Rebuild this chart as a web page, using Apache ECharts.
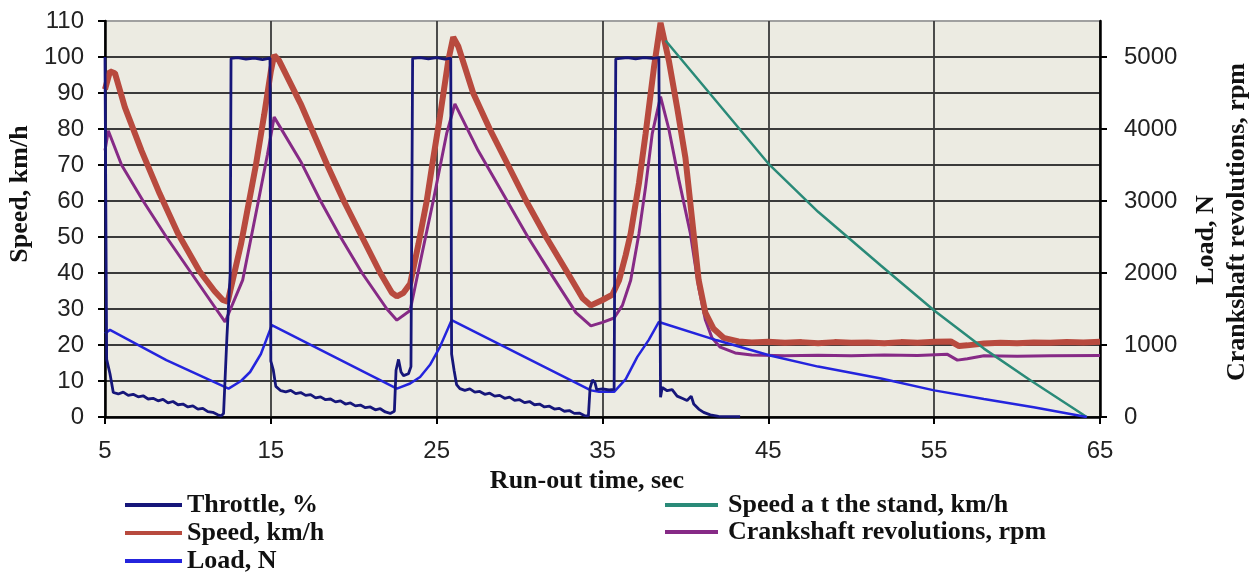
<!DOCTYPE html>
<html><head><meta charset="utf-8">
<script src="https://cdn.jsdelivr.net/npm/echarts@6/dist/echarts.min.js"></script>
<style>html,body{margin:0;padding:0;background:#fff;}#c{width:1260px;height:577px;}</style>
</head><body><div id="c"></div>
<script>
// ---- data (time in s, left axis km/h or %, right axis N or rpm) ----
const xTicks = [5, 15, 25, 35, 45, 55, 65];
const rightTicks = [0, 1000, 2000, 3000, 4000, 5000];

const throttleData = [
 [5.0,100],[5.1,16],[5.3,12],[5.5,6.8],[5.8,6.4],[6.1,6.9],[6.4,6.0],[6.7,6.3],[7.0,5.6],[7.3,5.9],[7.6,5.0],[7.9,5.2],
 [8.2,4.5],[8.5,4.9],[8.8,3.9],[9.1,4.3],[9.4,3.4],[9.7,3.6],[10.0,2.8],[10.3,3.1],[10.6,2.2],[10.9,2.4],[11.2,1.5],
 [11.5,1.3],[11.8,0.6],[12.0,0.3],[12.15,1],[12.35,22],[12.55,40],[12.6,99.6],[13.0,99.8],[13.5,99.4],[14.0,99.7],
 [14.5,99.3],[14.95,99.7],[15.0,15.5],[15.15,13],[15.3,8.5],[15.6,7.3],[15.9,7.0],[16.2,7.4],[16.5,6.5],[16.8,6.8],
 [17.1,6.0],[17.4,6.2],[17.7,5.3],[18.0,5.6],[18.3,4.8],[18.6,5.0],[18.9,4.2],[19.2,4.5],[19.5,3.6],[19.8,3.9],
 [20.1,3.1],[20.4,3.3],[20.7,2.6],[21.0,2.8],[21.3,2.0],[21.6,2.3],[21.9,1.4],[22.2,1.0],[22.45,1.6],[22.55,13],
 [22.7,16],[22.85,12.5],[23.0,11.5],[23.3,12],[23.45,14],[23.55,99.6],[24.0,99.8],[24.5,99.5],[25.0,99.8],[25.5,99.4],
 [25.85,99.7],[25.9,17.5],[26.05,13],[26.2,9],[26.4,7.9],[26.7,7.4],[27.0,7.8],[27.3,6.9],[27.6,7.1],[27.9,6.3],
 [28.2,6.6],[28.5,5.8],[28.8,6.0],[29.1,5.2],[29.4,5.5],[29.7,4.6],[30.0,4.8],[30.3,4.0],[30.6,4.3],[30.9,3.4],
 [31.2,3.6],[31.5,2.8],[31.8,3.0],[32.1,2.2],[32.4,2.4],[32.7,1.6],[33.0,1.8],[33.3,1.0],[33.6,1.1],[33.9,0.4],
 [34.15,0.3],[34.25,8],[34.4,10.3],[34.55,9.5],[34.65,7.6],[35.0,7.8],[35.4,7.5],[35.7,7.7],[35.8,99.5],[36.5,99.8],
 [37.0,99.5],[37.5,99.8],[38.0,99.6],[38.4,99.8],[38.5,5.5],[38.6,8.2],[38.9,7.3],[39.2,7.6],[39.5,5.8],[39.8,5.2],
 [40.1,4.6],[40.35,5.8],[40.5,3.6],[40.8,2.2],[41.1,1.3],[41.5,0.6],[42.0,0.2],[43.3,0.1]
];

const speedData = [
 [5.0,91],[5.3,96],[5.6,95.5],[6.2,86],[7.2,74],[8.3,62],[9.4,51],[10.7,40.5],[11.6,35],[12.1,32.5],[12.4,32],
 [12.8,40],[13.2,48],[13.65,59],[14.1,70],[14.6,84],[15.0,96],[15.2,100.5],[15.5,99],[16.8,87],[18.4,70],[19.4,60],
 [20.5,50],[21.6,40],[22.3,34.5],[22.6,33.5],[23.0,34.5],[23.4,37],[23.9,48],[24.4,60],[24.8,72],[25.2,83.5],
 [25.7,99],[26.0,105.5],[26.3,103],[27.2,90],[28.2,80],[29.3,70],[30.4,60],[31.6,50],[32.9,40],[33.8,33],[34.3,31],
 [35.0,32.5],[35.6,34],[36.0,38],[36.4,45],[36.7,51],[37.2,65],[37.6,78.7],[38.1,97],[38.5,109.5],[39.0,99],
 [39.5,86],[40.0,72],[40.4,55],[40.8,38],[41.2,29],[41.7,24.5],[42.3,22],[43.2,21],[44.0,20.7],[45.0,20.9],
 [46.0,20.6],[47.0,20.8],[48.0,20.5],[49.0,20.8],[50.0,20.6],[51.0,20.7],[52.0,20.5],[53.0,20.8],[54.0,20.6],
 [55.0,20.9],[56.0,21.0],[56.5,19.7],[57.0,19.9],[58.0,20.4],[59.0,20.6],[60.0,20.5],[61.0,20.7],[62.0,20.6],
 [63.0,20.8],[64.0,20.7],[65.0,20.9]
];

const loadData = [
 [5.0,1160],[5.3,1210],[8.7,790],[12.45,395],[13.2,500],[13.75,625],[14.4,875],[15.06,1275],[22.6,395],[23.4,465],
 [24.0,555],[24.6,725],[25.2,975],[25.9,1345],[34.3,370],[34.8,350],[35.7,350],[36.4,525],[37.1,835],[37.8,1075],
 [38.4,1320],[41.9,1065],[45.1,855],[48.0,700],[51.8,535],[55.0,370],[58.0,250],[61.0,135],[64.2,0]
];

const standData = [
 [38.8,104.6],[41.7,88.6],[45.0,70.4],[48.0,57],[51.8,42],[55.0,29.6],[58.0,19],[60.8,10.2],[64.2,0]
];

const crankData = [
 [5.0,3700],[5.2,3975],[6.0,3500],[7.3,3000],[8.7,2500],[10.2,2000],[11.7,1500],[12.24,1320],[13.3,1900],
 [14.25,3000],[14.8,3650],[15.2,4165],[16.8,3550],[18.0,3000],[19.2,2500],[20.5,2000],[22.0,1500],[22.6,1345],
 [23.4,1480],[24.1,2250],[24.8,3010],[25.6,3935],[26.1,4350],[27.5,3700],[29.0,3100],[30.5,2500],[32.0,1950],
 [33.4,1450],[34.3,1265],[35.0,1315],[35.7,1375],[36.2,1550],[36.7,1900],[37.2,2550],[37.6,3200],[38.0,3935],
 [38.5,4450],[39.0,4000],[39.6,3300],[40.3,2550],[40.8,1800],[41.2,1350],[41.6,1100],[42.1,970],[43.0,890],
 [44.0,860],[46.0,850],[48.0,858],[50.0,850],[52.0,862],[54.0,855],[55.8,870],[56.4,790],[57.0,810],[58.0,850],
 [60.0,845],[62.0,852],[65.0,855]
];

const seriesNames = ['Throttle, %','Speed, km/h','Load, N','Speed a t the stand, km/h','Crankshaft revolutions, rpm'];

// ---- chart ----
const SERIF = "'Liberation Serif','Times New Roman',serif";
const SANS = "'Liberation Sans',Arial,sans-serif";
const gridColors = [];
for (let i = 0; i < 11; i++) gridColors.push('#3a3a3a');
gridColors.push('#a0a0a0');

const chart = echarts.init(document.getElementById('c'), null, {renderer:'canvas'});
const labelStyle = {fontFamily: SANS, fontSize: 24, color: '#222'};
const legendText = {fontFamily: SERIF, fontWeight: 'bold', fontSize: 26, color: '#111', lineHeight: 26};

chart.setOption({
  animation: false,
  backgroundColor: '#fff',
  grid: {left: 105, right: 160, top: 21, bottom: 160, show: true, backgroundColor: '#ECEBE2', borderWidth: 0},
  xAxis: {
    type: 'value', min: 5, max: 65, interval: 10,
    axisLine: {show: true, onZero: false, lineStyle: {color: '#000', width: 2.5}},
    axisTick: {show: true, length: 7, lineStyle: {color: '#000', width: 2}, customValues: xTicks},
    axisLabel: {margin: 22, ...labelStyle, customValues: xTicks, formatter: v => String(v)},
    splitLine: {show: true, lineStyle: {color: '#3a3a3a', width: 1.8}}
  },
  yAxis: [
    {
      type: 'value', min: 0, max: 110, interval: 10, position: 'left',
      axisLine: {show: true, lineStyle: {color: '#000', width: 2.5}},
      axisTick: {show: true, length: 7, lineStyle: {color: '#000', width: 2}},
      axisLabel: {margin: 21, ...labelStyle, formatter: v => String(v)},
      splitLine: {show: true, lineStyle: {color: gridColors, width: 1.8}}
    },
    {
      type: 'value', min: 0, max: 5500, position: 'right',
      axisLine: {show: true, lineStyle: {color: '#000', width: 2.5}},
      axisTick: {show: true, length: 7, lineStyle: {color: '#000', width: 2}, customValues: rightTicks},
      axisLabel: {margin: 24, ...labelStyle, customValues: rightTicks, formatter: v => String(v)},
      splitLine: {show: false}
    }
  ],
  legend: [
    {
      data: [seriesNames[0], seriesNames[1], seriesNames[2]],
      orient: 'vertical', left: 125, top: 492, padding: 0, height: 85, itemWidth: 57, itemHeight: 4, itemGap: 2,
      icon: 'rect', textStyle: legendText, selectedMode: false
    },
    {
      data: [seriesNames[3], seriesNames[4]],
      orient: 'vertical', left: 665, top: 492, padding: 0, height: 60, itemWidth: 53, itemHeight: 4, itemGap: 1,
      icon: 'rect', textStyle: {...legendText, padding: [0,0,0,5]}, selectedMode: false
    }
  ],
  graphic: [
    {type: 'text', x: 20, y: 194, rotation: Math.PI/2,
     style: {text: 'Speed, km/h', font: "bold 26px " + SERIF, fill: '#111', align: 'center', verticalAlign: 'middle', textAlign: 'center', textVerticalAlign: 'middle'}},
    {type: 'text', x: 1206, y: 240, rotation: Math.PI/2,
     style: {text: 'Load, N', font: "bold 26px " + SERIF, fill: '#111', align: 'center', verticalAlign: 'middle', textAlign: 'center', textVerticalAlign: 'middle'}},
    {type: 'text', x: 1237, y: 222, rotation: Math.PI/2,
     style: {text: 'Crankshaft revolutions, rpm', font: "bold 26px " + SERIF, fill: '#111', align: 'center', verticalAlign: 'middle', textAlign: 'center', textVerticalAlign: 'middle'}},
    {type: 'text', x: 587, y: 481,
     style: {text: 'Run-out time, sec', font: "bold 26px " + SERIF, fill: '#111', align: 'center', verticalAlign: 'middle', textAlign: 'center', textVerticalAlign: 'middle'}}
  ],
  series: [
    {name: seriesNames[4], type: 'line', yAxisIndex: 1, data: crankData, symbol: 'none', z: 2,
     lineStyle: {color: '#862A86', width: 3}, itemStyle: {color: '#862A86'}},
    {name: seriesNames[1], type: 'line', yAxisIndex: 0, data: speedData, symbol: 'none', z: 3,
     lineStyle: {color: '#B84A3E', width: 6}, itemStyle: {color: '#B84A3E'}},
    {name: seriesNames[3], type: 'line', yAxisIndex: 0, data: standData, symbol: 'none', z: 4,
     lineStyle: {color: '#2A8A78', width: 2.5}, itemStyle: {color: '#2A8A78'}},
    {name: seriesNames[2], type: 'line', yAxisIndex: 1, data: loadData, symbol: 'none', z: 5,
     lineStyle: {color: '#2424DD', width: 2.5}, itemStyle: {color: '#2424DD'}},
    {name: seriesNames[0], type: 'line', yAxisIndex: 0, data: throttleData, symbol: 'none', z: 6,
     lineStyle: {color: '#16167A', width: 2.8}, itemStyle: {color: '#16167A'}}
  ]
});
</script></body></html>
